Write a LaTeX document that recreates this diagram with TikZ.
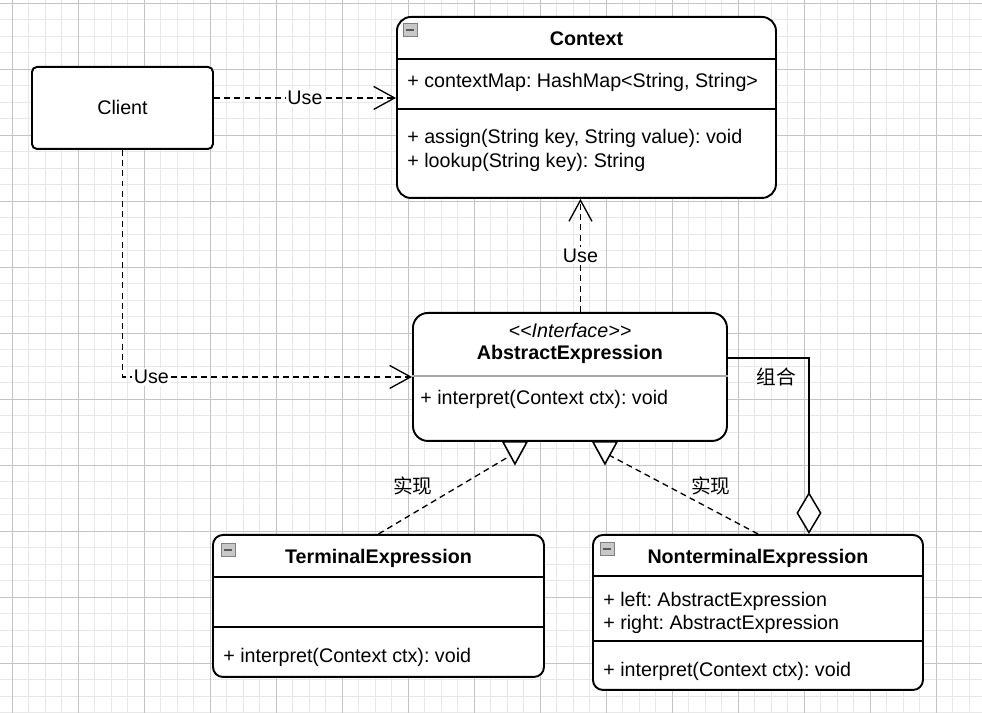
\documentclass[tikz,border=0pt]{standalone}
\usepackage{fontspec}
\setmainfont{Liberation Sans}
\newfontfamily\cjkfont{Noto Sans CJK SC}
\usetikzlibrary{arrows.meta,positioning,calc}
\frenchspacing
\definecolor{GridMajor}{HTML}{C4C4C4}
\definecolor{GridMinor}{HTML}{E8E8E8}
\definecolor{IconFill}{HTML}{C8C8C8}
\definecolor{IconLine}{HTML}{808080}
\definecolor{SplitGray}{HTML}{A8A8A8}
\newcommand{\umlsize}{\fontsize{11.2}{13.4}\selectfont}
\tikzset{
  classbox/.style={draw=black, fill=white, line width=1.1pt, anchor=north west, inner sep=0pt},
  titletext/.style={font=\umlsize\bfseries, inner sep=0pt, text height=8pt, text depth=0pt},
  membertext/.style={anchor=west, inner sep=0pt, text height=8pt, text depth=0pt},
  divider/.style={line width=1.1pt},
  minusicon/.style={draw=IconLine, fill=IconFill, anchor=north west, minimum width=2.8mm, minimum height=2.6mm, inner sep=0pt, line width=0.5pt, text=black!65},
  dep/.style={dash pattern=on 3.4pt off 2.4pt, line width=0.75pt, -{Straight Barb[length=4.2mm, width=4.6mm, line width=0.75pt]}},
  realize/.style={dash pattern=on 3.4pt off 2.4pt, line width=0.75pt},
  hollowtri/.style={draw, fill=white, line width=0.9pt, line join=miter},
  aggr/.style={line width=0.85pt, -{Diamond[fill=white, length=8.4mm, width=5mm, line width=0.85pt]}},
  lbl/.style={fill=white, inner sep=1pt},
  cjklbl/.style={font=\umlsize\cjkfont, inner sep=0pt}
}
\begin{document}
\begin{tikzpicture}[x=0.2mm, y=-0.2mm, font=\umlsize]
  \useasboundingbox (0,0) rectangle (982,713);
  % grid
  \foreach \i in {0,...,58} \draw[GridMinor, line width=0.5pt] ({12+16.5*\i},0) -- ({12+16.5*\i},713);
  \foreach \j in {0,...,43} \draw[GridMinor, line width=0.5pt] (0,{3+16.5*\j}) -- (982,{3+16.5*\j});
  \foreach \i in {0,...,14} \draw[GridMajor, line width=0.5pt] ({12+66*\i},0) -- ({12+66*\i},713);
  \foreach \j in {0,...,10} \draw[GridMajor, line width=0.5pt] (0,{3+66*\j}) -- (982,{3+66*\j});

  % classes
  \node[classbox, minimum width=36.2mm, minimum height=16.4mm, rounded corners=1mm] (client) at (31,66) {Client};
  \node[classbox, minimum width=75.8mm, minimum height=36.2mm, rounded corners=2.8mm] (ctx) at (396,16) {};
  \node[classbox, minimum width=62.8mm, minimum height=25.6mm, rounded corners=3mm] (abs) at (412,312) {};
  \node[classbox, minimum width=66.2mm, minimum height=28.4mm, rounded corners=2mm] (term) at (212,534) {};
  \node[classbox, minimum width=66mm, minimum height=31mm, rounded corners=2mm] (nonterm) at (592,534) {};

  \draw[divider] ($(ctx.north west)+(0,43)$) -- ($(ctx.north east)+(0,43)$);
  \draw[divider] ($(ctx.north west)+(0,93)$) -- ($(ctx.north east)+(0,93)$);
  \draw[SplitGray, line width=0.8pt] ($(abs.north west)+(0,64)$) -- ($(abs.north east)+(0,64)$);
  \draw[divider] ($(term.north west)+(0,43)$) -- ($(term.north east)+(0,43)$);
  \draw[divider] ($(term.north west)+(0,93)$) -- ($(term.north east)+(0,93)$);
  \draw[divider] ($(nonterm.north west)+(0,42)$) -- ($(nonterm.north east)+(0,42)$);
  \draw[divider] ($(nonterm.north west)+(0,107)$) -- ($(nonterm.north east)+(0,107)$);

  \node[minusicon] (ctxicon) at ($(ctx.north west)+(7,7)$) {\rule{1.6mm}{0.4mm}};
  \node[minusicon] (termicon) at ($(term.north west)+(9,9)$) {\rule{1.6mm}{0.4mm}};
  \node[minusicon] (nticon) at ($(nonterm.north west)+(8,8)$) {\rule{1.6mm}{0.4mm}};

  \node[titletext] (ctxname) at ($(ctx.north)+(0,22)$) {Context};
  \node[membertext] (ctxattr) at ($(ctx.north west)+(11,64)$) {+ contextMap: HashMap<String, String>};
  \node[membertext] (ctxop1) at ($(ctx.north west)+(11,120.5)$) {+ assign(String key, String value): void};
  \node[membertext] (ctxop2) at ($(ctx.north west)+(11,144)$) {+ lookup(String key): String};

  \node[inner sep=0pt, text height=8pt, text depth=0pt] (absstereo) at ($(abs.north)+(0,18)$) {\itshape <{}<Interface>{}>};
  \node[titletext] (absname) at ($(abs.north)+(0,40)$) {AbstractExpression};
  \node[membertext] (absop) at ($(abs.north west)+(8,85)$) {+ interpret(Context ctx): void};

  \node[titletext] (termname) at ($(term.north)+(0,22)$) {TerminalExpression};
  \node[membertext] (termop) at ($(term.north west)+(11,121)$) {+ interpret(Context ctx): void};

  \node[titletext] (ntname) at ($(nonterm.north)+(0,22)$) {NonterminalExpression};
  \node[membertext] (ntleft) at ($(nonterm.north west)+(11,65)$) {+ left: AbstractExpression};
  \node[membertext] (ntright) at ($(nonterm.north west)+(11,88)$) {+ right: AbstractExpression};
  \node[membertext] (ntop) at ($(nonterm.north west)+(11,135)$) {+ interpret(Context ctx): void};

  % uses
  \coordinate (useA) at ([yshift=2mm]client.east);
  \draw[dep] (useA) -- node[lbl]{Use} (useA -| ctx.west);
  \draw[dep] (client.south) |- node[lbl, pos=0.55]{Use} (abs.west);
  \coordinate (useC) at ([xshift=2.1mm]abs.north);
  \draw[dep] (useC) -- node[lbl]{Use} (useC |- ctx.south);

  % realizations
  \coordinate (tri1) at ([xshift=-11mm]abs.south);
  \coordinate (tri2) at ([xshift=7mm]abs.south);
  \draw[realize] (term.north) -- node[cjklbl, xshift=-6.75mm, yshift=1.5mm]{实现} ($(tri1)+(0,11)$);
  \draw[realize] (nonterm.north) -- node[cjklbl, xshift=5.9mm, yshift=1.5mm]{实现} ($(tri2)+(0,11)$);
  \draw[hollowtri] ($(tri1)+(-12,0)$) -- ++(24,0) -- ++(-12,22) -- cycle;
  \draw[hollowtri] ($(tri2)+(-12,0)$) -- ++(24,0) -- ++(-12,22) -- cycle;

  % aggregation
  \coordinate (aggA) at ([yshift=3.8mm]abs.east);
  \coordinate (aggB) at ([xshift=10.2mm]nonterm.north);
  \draw[aggr] (aggA) -| node[cjklbl, pos=0.3, yshift=-3.8mm]{组合} (aggB);
\end{tikzpicture}
\end{document}
